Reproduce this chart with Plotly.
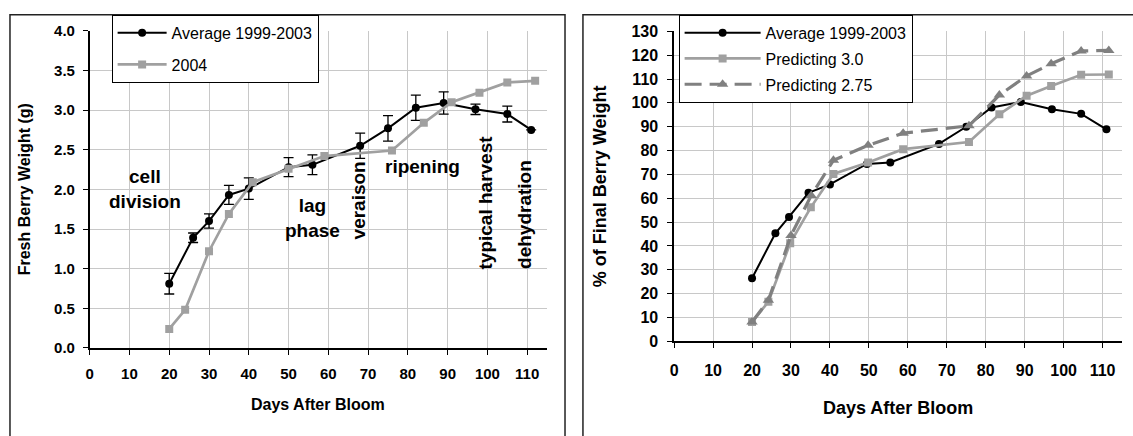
import plotly.graph_objects as go

W, H = 1133, 436

# ---------------- Left chart data ----------------
avg_days = [20, 26, 30, 35, 40, 50, 56, 68, 75, 82, 89, 97, 105, 111]
avg_weight = [0.81, 1.39, 1.60, 1.93, 2.01, 2.28, 2.31, 2.55, 2.77, 3.03, 3.09, 3.01, 2.95, 2.75]
avg_err = [0.13, 0.06, 0.09, 0.12, 0.135, 0.12, 0.125, 0.16, 0.16, 0.16, 0.14, 0.065, 0.10, 0.0]

y2004_days = [20, 24, 30, 35, 41, 50, 59, 76, 84, 91, 98, 105, 112]
y2004_weight = [0.24, 0.48, 1.22, 1.69, 2.09, 2.26, 2.42, 2.49, 2.84, 3.10, 3.22, 3.35, 3.37]

# ---------------- Right chart data ----------------
pavg_days = [20, 26, 29.5, 34.5, 40, 49.5, 55.5, 68, 75, 81.5, 89, 97, 104.5, 111]
pavg_pct = [26.5, 45.3, 52.2, 62.3, 65.8, 74.4, 75.0, 82.8, 90.0, 98.1, 100.4, 97.3, 95.4, 88.9]

p30_days = [20, 24.2, 29.8, 35.1, 40.9, 49.8, 58.8, 75.7, 83.5, 90.5, 96.8, 104.5, 111.6]
p30_pct = [8.1, 16.6, 41.2, 56.2, 70.2, 75.0, 80.6, 83.6, 95.2, 103.0, 107.1, 111.8, 111.9]

p275_days = [20, 24.2, 30, 35.2, 40.9, 49.8, 58.8, 75.7, 83.5, 90.5, 96.8, 104.5, 111.6]
p275_pct = [8.1, 17.2, 44.4, 61.2, 75.9, 82.2, 87.3, 90.4, 103.3, 111.3, 116.4, 121.8, 122.0]

x_ticks = list(range(0, 111, 10))
left_y_ticks = [0.0, 0.5, 1.0, 1.5, 2.0, 2.5, 3.0, 3.5, 4.0]
right_y_ticks = list(range(0, 131, 10))

stage_labels = ["cell<br>division", "lag<br>phase", "veraison", "ripening", "typical harvest", "dehydration"]
stage_x = [13.9, 56.0, 67.7, 83.8, 99.5, 109.5]
stage_y = [2.0, 1.64, 1.86, 2.29, 1.84, 1.68]
stage_angle = [0, 0, -90, 0, -90, -90]

FONT = "Liberation Sans, Arial, sans-serif"
GRID = "#c8c8c8"
LIGHT = "#a0a0a0"
DARK = "#808080"

def px(x):
    return x / W

def py(y):
    return 1 - y / H

fig = go.Figure()

# Left chart
fig.add_trace(go.Scatter(
    x=avg_days, y=avg_weight, name="Average 1999-2003", mode="lines+markers",
    line=dict(color="black", width=2), marker=dict(symbol="circle", size=8, color="black"),
    error_y=dict(type="data", array=avg_err, visible=True, color="black", thickness=1.3, width=5),
    xaxis="x", yaxis="y", legend="legend", legendgroup="a1"))
fig.add_trace(go.Scatter(
    x=y2004_days, y=y2004_weight, name="2004", mode="lines+markers",
    line=dict(color=LIGHT, width=2.7), marker=dict(symbol="square", size=8, color=LIGHT),
    xaxis="x", yaxis="y", legend="legend", legendgroup="a2"))

# Right chart
fig.add_trace(go.Scatter(
    x=pavg_days, y=pavg_pct, name="Average 1999-2003", mode="lines+markers",
    line=dict(color="black", width=2), marker=dict(symbol="circle", size=8, color="black"),
    xaxis="x2", yaxis="y2", legend="legend2", legendgroup="b1"))
fig.add_trace(go.Scatter(
    x=p30_days, y=p30_pct, name="Predicting 3.0", mode="lines+markers",
    line=dict(color=LIGHT, width=2.7), marker=dict(symbol="square", size=8, color=LIGHT),
    xaxis="x2", yaxis="y2", legend="legend2", legendgroup="b2"))
fig.add_trace(go.Scatter(
    x=p275_days, y=p275_pct, name="Predicting 2.75", mode="lines+markers",
    line=dict(color=DARK, width=3.2, dash="17px,8px"), marker=dict(symbol="triangle-up", size=10, color=DARK),
    xaxis="x2", yaxis="y2", legend="legend2", legendgroup="b3"))

# plot-area geometry in pixels
L = dict(x0=86, x1=545, y0=22.8, y1=353.5)
R = dict(x0=672.5, x1=1122, y0=23.3, y1=346.7)

common_x = dict(range=[0, 115], tickvals=x_ticks, showgrid=True, gridcolor=GRID, gridwidth=1,
                showline=True, linecolor="black", linewidth=1.5, ticks="outside", ticklen=5,
                tickcolor="black", tickwidth=1, zeroline=False, fixedrange=True)
common_y = dict(showgrid=True, gridcolor=GRID, gridwidth=1, showline=True, linecolor="black",
                linewidth=1.5, ticks="outside", ticklen=5, tickcolor="black", tickwidth=1,
                zeroline=False, fixedrange=True)

fig.update_layout(
    width=W, height=H, margin=dict(l=0, r=0, t=0, b=0),
    paper_bgcolor="white", plot_bgcolor="white",
    font=dict(family=FONT, color="black"),
    xaxis=dict(common_x, domain=[px(L["x0"]), px(L["x1"])], anchor="y",
               tickfont=dict(size=15, family=FONT, weight="bold"), ticklabelstandoff=6),
    yaxis=dict(common_y, domain=[py(L["y1"]), py(L["y0"])], anchor="x", range=[0, 4],
               tickvals=left_y_ticks, ticktext=[f"{v:.1f}" for v in left_y_ticks],
               tickfont=dict(size=15, family=FONT, weight="bold"), ticklabelstandoff=5),
    xaxis2=dict(common_x, domain=[px(R["x0"]), px(R["x1"])], anchor="y2",
                tickfont=dict(size=16, family=FONT, weight="bold"), ticklabelstandoff=9),
    yaxis2=dict(common_y, domain=[py(R["y1"]), py(R["y0"])], anchor="x2", range=[0, 130],
                tickvals=right_y_ticks, tickfont=dict(size=16, family=FONT, weight="bold"),
                ticklabelstandoff=6),
    legend=dict(x=px(108), y=py(6), xanchor="left", yanchor="top", bgcolor="white",
                bordercolor="black", borderwidth=1, font=dict(size=16, family=FONT),
                traceorder="grouped", tracegroupgap=8, itemwidth=49),
    legend2=dict(x=px(677), y=py(6), xanchor="left", yanchor="top", bgcolor="white",
                 bordercolor="black", borderwidth=1, font=dict(size=16, family=FONT),
                 traceorder="grouped", tracegroupgap=2, itemwidth=76),
    showlegend=True,
)

# Axis titles (explicitly centred)
title_common = dict(xref="paper", yref="paper", showarrow=False, xanchor="center", yanchor="middle")
fig.add_annotation(x=px((L["x0"] + L["x1"]) / 2), y=py(413), text="<b>Days After Bloom</b>",
                   font=dict(size=16, family=FONT, color="black"), **title_common)
fig.add_annotation(x=px(20), y=py((L["y0"] + L["y1"]) / 2), text="<b>Fresh Berry Weight (g)</b>",
                   textangle=-90, font=dict(size=16, family=FONT, color="black"), **title_common)
fig.add_annotation(x=px((R["x0"] + R["x1"]) / 2), y=py(416), text="<b>Days After Bloom</b>",
                   font=dict(size=18, family=FONT, color="black"), **title_common)
fig.add_annotation(x=px(598), y=py((R["y0"] + R["y1"]) / 2), text="<b>% of Final Berry Weight</b>",
                   textangle=-90, font=dict(size=18, family=FONT, color="black"), **title_common)

# Growth-stage labels
for t, xv, yv, ang in zip(stage_labels, stage_x, stage_y, stage_angle):
    fig.add_annotation(x=xv, y=yv, xref="x", yref="y", text=f"<b>{t}</b>", showarrow=False,
                       xanchor="center", yanchor="middle",
                       textangle=ang, font=dict(size=19, family=FONT, color="black"))

# Panel borders
fig.add_shape(type="rect", xref="paper", yref="paper", x0=px(6), x1=px(563), y0=-0.05, y1=py(6),
              line=dict(color="#222222", width=1.5), layer="below")
fig.add_shape(type="rect", xref="paper", yref="paper", x0=px(581), x1=1.05, y0=-0.05, y1=py(6),
              line=dict(color="#222222", width=1.5), layer="below")

fig.write_html("out.html", config={"displayModeBar": False},
               post_script="document.body.style.margin='0';document.body.style.overflow='hidden';")
